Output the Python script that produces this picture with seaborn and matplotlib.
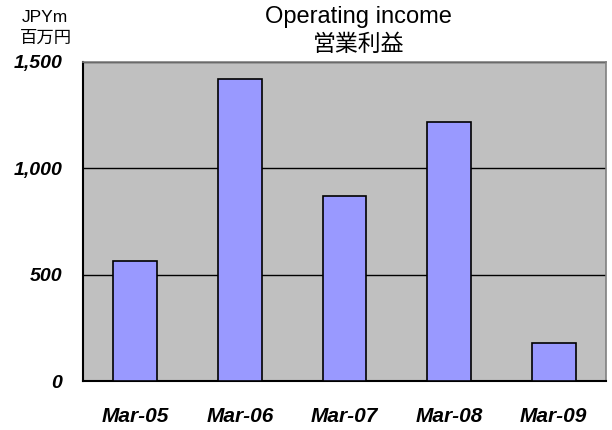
import pandas as pd
import matplotlib
matplotlib.use("Agg")
import matplotlib.pyplot as plt
import seaborn as sns

periods = ["Mar-05", "Mar-06", "Mar-07", "Mar-08", "Mar-09"]
operating_income = [566, 1420, 868, 1217, 177]
y_ticks = [0, 500, 1000, 1500]
y_tick_labels = ["0", "500", "1,000", "1,500"]

df = pd.DataFrame({"period": periods, "income": operating_income})

sns.set_style("white")
plt.rcParams["font.family"] = ["Liberation Sans", "Noto Sans CJK JP"]
plt.rcParams["text.color"] = "black"
plt.rcParams["xtick.color"] = "black"
plt.rcParams["ytick.color"] = "black"

fig = plt.figure(figsize=(6.12, 4.30), dpi=100)
ax = fig.add_axes([83 / 612, 1 - 381 / 430, 523 / 612, 319 / 430])
ax.set_facecolor("#C0C0C0")

sns.barplot(data=df, x="period", y="income", color="#9999FF", width=0.42,
            edgecolor="black", linewidth=1.2, saturation=1, ax=ax, zorder=3)

ax.set_xlim(-0.5, 4.5)
ax.set_ylim(0, 1500)
ax.set_yticks(y_ticks)
ax.set_yticklabels(y_tick_labels)
ax.yaxis.grid(True, color="black", linewidth=1)
ax.set_axisbelow(True)
ax.set_xlabel("")
ax.set_ylabel("")

# ticks between the categories, pointing inwards
ax.set_xticks([0.5, 1.5, 2.5, 3.5], minor=True)
ax.tick_params(axis="x", which="major", length=0, pad=19)
ax.tick_params(axis="x", which="minor", direction="in", length=6, color="#404040")
ax.tick_params(axis="y", direction="in", length=5, pad=15)
for lbl in ax.get_xticklabels():
    lbl.set_fontsize(15)
    lbl.set_fontweight("bold")
    lbl.set_fontstyle("italic")
for lbl in ax.get_yticklabels():
    lbl.set_fontsize(14)
    lbl.set_fontweight("bold")
    lbl.set_fontstyle("italic")

for side in ["left", "bottom"]:
    ax.spines[side].set_color("black")
    ax.spines[side].set_linewidth(1.5)
for side in ["top", "right"]:
    ax.spines[side].set_visible(True)
    ax.spines[side].set_color("#808080")
    ax.spines[side].set_linewidth(1.2)

fig.text(358 / 612, 1 - 17 / 430, "Operating income", ha="center", va="center", fontsize=17)
fig.text(359 / 612, 1 - 44 / 430, "営業利益", ha="center", va="center", fontsize=16.5)
fig.text(45 / 612, 1 - 17 / 430, "JPYm", ha="center", va="center", fontsize=12.5)
fig.text(46 / 612, 1 - 38.5 / 430, "百万円", ha="center", va="center", fontsize=12.5)

fig.savefig("out.png", dpi=100)
plt.close()
